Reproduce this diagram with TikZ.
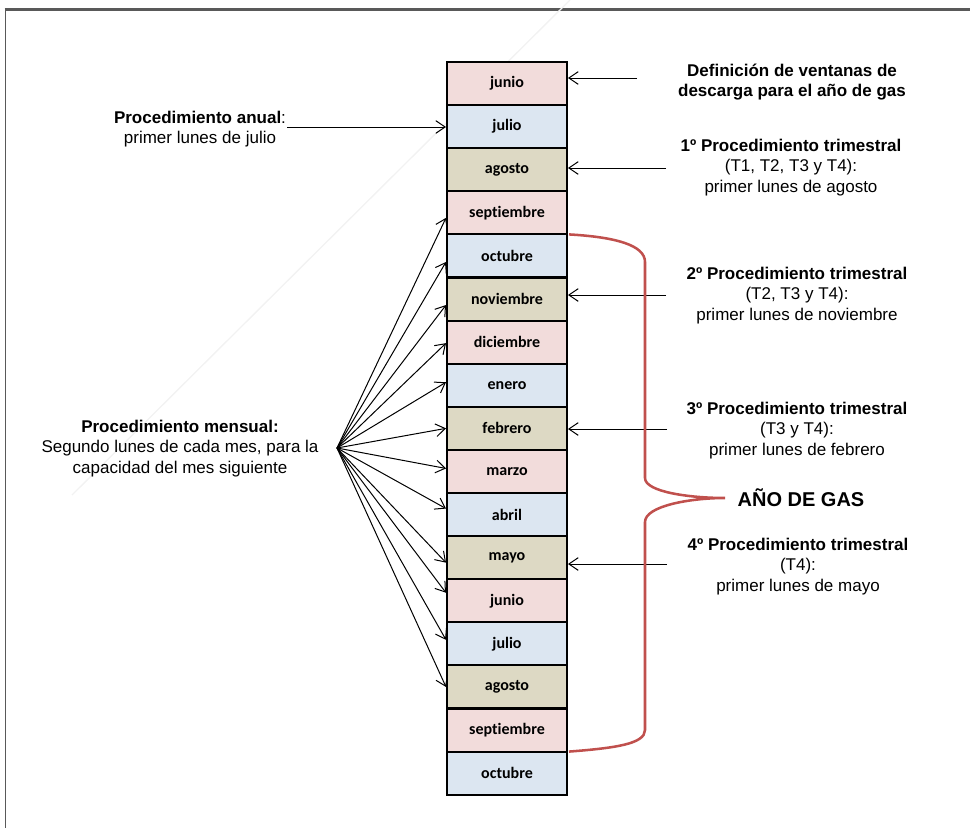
\documentclass[tikz,border=0pt]{standalone}
\usepackage{fontspec}
\setmainfont{Liberation Sans}
\newfontfamily\calibri[Ligatures=NoCommon]{Carlito}
\usetikzlibrary{arrows.meta,calc}

\definecolor{cell0}{RGB}{242,220,219}
\definecolor{cell1}{RGB}{220,230,241}
\definecolor{cell2}{RGB}{221,217,196}
\definecolor{bracered}{RGB}{192,80,77}
\definecolor{framegray}{RGB}{89,89,89}

\tikzset{
  cell/.style={draw=black, line width=1.5pt, minimum width=90pt, minimum height=32.3pt,
    inner sep=0pt, font=\calibri\bfseries\fontsize{12}{14}\selectfont},
  note/.style={align=center, inner sep=0pt, font=\fontsize{12.75}{15.4}\selectfont},
  arr/.style={line width=0.75pt, -{Straight Barb[length=7pt,width=9.5pt]}},
  brace/.style={draw=bracered, line width=1.9pt},
}

\begin{document}
\begin{tikzpicture}[x=0.75pt, y=-0.75pt]
\useasboundingbox (0,0) rectangle (970,828);

% frame
\draw[framegray, line width=0.75pt] (5,9) -- (5,828);
\draw[framegray, line width=2.2pt] (4.6,9.5) -- (970,9.5);

% faint diagonal stroke
\draw[gray!10, line width=1pt] (570,0) -- (72,495);

% month column
\foreach \m [count=\i from 0] in {junio,julio,agosto,septiembre,octubre,noviembre,diciembre,enero,febrero,marzo,abril,mayo,junio,julio,agosto,septiembre,octubre}{
  \pgfmathtruncatemacro\c{mod(\i,3)}
  \node[cell, fill=cell\c] (r\i) at (507,{62+43.1*(\i+0.5)}) {\m};
}

% right-hand notes
\node[note, font=\bfseries\fontsize{12.75}{15.4}\selectfont] (def) at (792,82)
  {Definición de ventanas de\\descarga para el año de gas};
\node[note] (t1) at (791,167.5)
  {\textbf{1º Procedimiento trimestral}\\(T1, T2, T3 y T4):\\primer lunes de agosto};
\node[note] (t2) at (797,295.5)
  {\textbf{2º Procedimiento trimestral}\\(T2, T3 y T4):\\primer lunes de noviembre};
\node[note] (t3) at (797,430.5)
  {\textbf{3º Procedimiento trimestral}\\(T3 y T4):\\primer lunes de febrero};
\node[note] (t4) at (798,566.5)
  {\textbf{4º Procedimiento trimestral}\\(T4):\\primer lunes de mayo};
\node[inner sep=0pt, font=\bfseries\fontsize{15}{18}\selectfont] (gas) at (801,498) {AÑO DE GAS};

% left-hand notes
\node[note] (anual) at (200,129)
  {\textbf{Procedimiento anual}:\\primer lunes de julio};
\node[note] (mensual) at (180,448.5)
  {\textbf{Procedimiento mensual:}\\Segundo lunes de cada mes, para la\\capacidad del mes siguiente};

% arrow tails
\coordinate (a0) at (637,78);
\coordinate (a1) at (666,168);
\coordinate (a2) at (666,295);
\coordinate (a3) at (667,429);
\coordinate (a4) at (667,564);
\coordinate (aa) at (287,127);
\coordinate (fan) at (337,448);

\draw[arr] (a0) -- (a0 -| r0.east);
\draw[arr] (a1) -- (a1 -| r2.east);
\draw[arr] (a2) -- (a2 -| r5.east);
\draw[arr] (a3) -- (a3 -| r8.east);
\draw[arr] (a4) -- (a4 -| r11.east);
\draw[arr] (aa) -- (aa -| r1.west);

% monthly fan
\foreach \i/\off in {3/5,4/6,5/6,6/1,7/-3,8/0,9/-3,10/-6,11/5,12/-8,13/-4,14/0}{
  \draw[arr] (fan) -- ($(r\i.west)+(0,\off)$);
}

% gas-year brace
\coordinate (bs) at ($(r4.north east)+(1,1)$);
\coordinate (be) at ($(r15.south east)+(1,-1)$);
\coordinate (tip) at (725,498);
\draw[brace] (bs) .. controls (615,237) and (645,245) .. (645,262)
  -- (645,478) .. controls (645,492) and (690,498) .. (tip)
  .. controls (690,498) and (645,506) .. (645,522)
  -- (645,730) .. controls (645,744) and (615,748) .. (be);
\end{tikzpicture}
\end{document}
